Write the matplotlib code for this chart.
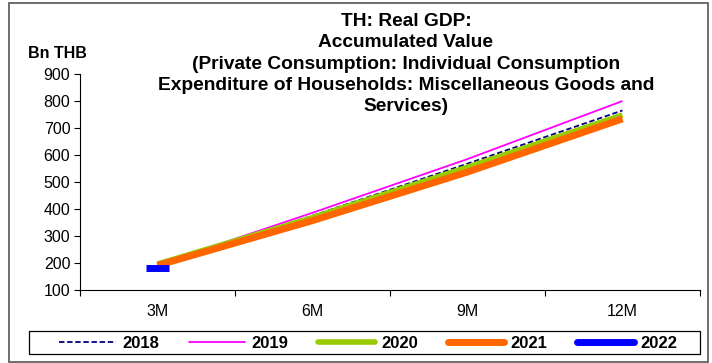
import numpy as np
import matplotlib.pyplot as plt
from matplotlib.patches import Rectangle

plt.rcParams['font.family'] = ['Liberation Sans', 'DejaVu Sans']

# Dati (miliardi di THB)
periods = ['3M', '6M', '9M', '12M']
v2018 = [192, 375, 568, 765]
v2019 = [193, 386, 585, 800]
v2020 = [196, 368, 555, 748]
v2021 = [191, 357, 537, 734]
v2022 = [182]

series = [
    ('2018', v2018, dict(color='#000080', lw=1.3, ls=(0, (3, 1.5)))),
    ('2019', v2019, dict(color='#FF00FF', lw=1.3)),
    ('2020', v2020, dict(color='#99CC00', lw=4)),
    ('2021', v2021, dict(color='#FF6600', lw=5)),
    ('2022', v2022, dict(color='#0000FF', lw=5)),
]

fig = plt.figure(figsize=(7.12, 3.63), dpi=100)
ax = fig.add_axes([80/712, 73/363, 620/712, 216/363])

x = np.arange(len(periods))
for name, vals, style in series:
    xs = x[:len(vals)]
    if len(vals) == 1:
        # un solo punto: trattino orizzontale centrato sulla categoria
        ax.plot([xs[0] - 0.074, xs[0] + 0.074], [vals[0], vals[0]], label=name,
                solid_capstyle='butt', **style)
    else:
        ax.plot(xs, vals, label=name, solid_capstyle='butt', **style)

ax.set_xlim(-0.5, 3.5)
ax.set_ylim(100, 900)
ax.set_yticks(range(100, 901, 100))
ax.set_xticks(x)
ax.set_xticklabels(periods)
ax.set_xticks(np.arange(-0.5, 3.6, 1), minor=True)
ax.tick_params(axis='x', which='major', length=0, pad=10, labelsize=11.5)
ax.tick_params(axis='x', which='minor', length=4, direction='out', width=0.8)
ax.tick_params(axis='y', length=4, direction='out', width=0.8, labelsize=11.5, pad=3)
for s in ['top', 'right']:
    ax.spines[s].set_visible(False)
for s in ['left', 'bottom']:
    ax.spines[s].set_linewidth(0.8)

fig.text(406/712, 1 - 13/363,
         'TH: Real GDP:\nAccumulated Value\n(Private Consumption: Individual Consumption\n'
         'Expenditure of Households: Miscellaneous Goods and\nServices)',
         ha='center', va='top', fontsize=13.8, fontweight='bold', linespacing=1.33)
fig.text(57/712, 1 - 53/363, 'Bn THB', ha='center', va='center',
         fontsize=11.5, fontweight='bold')

leg = fig.legend(loc='center', bbox_to_anchor=(368/712, 1 - 343/363), ncol=5,
                 frameon=False, handlelength=3.4, columnspacing=1.8,
                 handletextpad=0.36, borderpad=0, prop={'weight': 'bold', 'size': 12})
for h in leg.get_lines():
    h.set_solid_capstyle('round')

# riquadro legenda
fig.add_artist(Rectangle((29/712, 1 - 354/363), 671/712, 23/363, transform=fig.transFigure,
                         fill=False, edgecolor='black', lw=0.9))
# cornice esterna
fig.add_artist(Rectangle((9/712, 1/363), 699/712, 359/363, transform=fig.transFigure,
                         fill=False, edgecolor='#555555', lw=1.2))

fig.savefig('out.png', dpi=100)
